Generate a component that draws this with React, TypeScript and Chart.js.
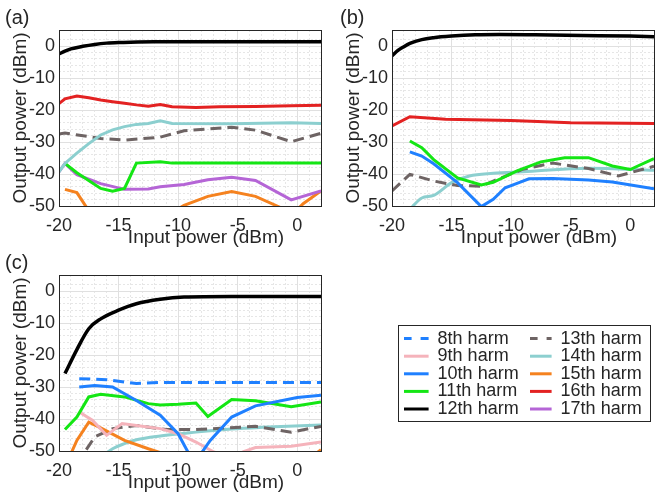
import React, { useEffect, useRef } from 'react';
import { Chart, registerables } from 'chart.js';

Chart.register(...registerables);

type P = [number, number][];

const FONT = '"Liberation Sans", Arial, Helvetica, sans-serif';
const TXT = '#262626';

// harmonic colours
const C8 = '#1f80ff';
const C9 = '#f5b3bb';
const C10 = '#1f80ff';
const C11 = '#14e614';
const C12 = '#000000';
const C13 = '#6e6464';
const C14 = '#8ccfcf';
const C15 = '#f5821f';
const C16 = '#e32222';
const C17 = '#b565d6';

// axis ranges / ticks
const X_MIN = -20;
const X_MAX = 2;
const Y_MIN = -50;
const Y_MAX = 5;
const X_TITLE = 'Input power (dBm)';
const Y_TITLE = 'Output power (dBm)';

// ---------- panel (a) ----------
const A_H12: P = [[-20, -2.5], [-19.5, -1.6], [-19, -0.9], [-18, -0.1], [-17, 0.5], [-16, 0.9], [-15, 1.1], [-14, 1.2], [-12, 1.3], [-8, 1.3], [-4, 1.3], [0, 1.3], [2, 1.3]];
const A_H16: P = [[-20, -18], [-19.5, -16.5], [-18.5, -15.6], [-17.5, -16.2], [-16.5, -16.9], [-15.5, -17.4], [-14.5, -17.9], [-13.5, -18.4], [-12.5, -18.8], [-11.5, -18.3], [-10.5, -19], [-8.5, -19.2], [-6.5, -19], [-3.5, -18.9], [-0.5, -18.7], [2, -18.5]];
const A_H14: P = [[-20, -39.3], [-19.5, -36.7], [-18.5, -33.5], [-17.5, -30.5], [-16.5, -27.8], [-15.5, -26.2], [-14.5, -25.2], [-13.5, -24.5], [-12.5, -24.2], [-11.5, -23.4], [-10.5, -24.2], [-5.5, -24.3], [-0.5, -24], [2, -24.2]];
const A_H13: P = [[-20, -27.5], [-19.5, -27.2], [-16.5, -28.9], [-14.5, -29.4], [-11.5, -28.5], [-9.5, -26.5], [-5.5, -25.4], [-3.5, -26.3], [-0.5, -29.9], [2, -27.3]];
const A_H11: P = [[-19.5, -36.7], [-18.5, -39.6], [-16.5, -44.5], [-15.5, -45.4], [-14.5, -44.5], [-13.5, -36.6], [-11.5, -36.2], [-10.5, -36.6], [2, -36.6]];
const A_H17: P = [[-20, -39.3], [-19.5, -36.7], [-18.5, -40.2], [-16.5, -43], [-14.5, -44.8], [-12.5, -44.7], [-11.5, -44], [-9.5, -43.3], [-7.5, -41.8], [-5.5, -41], [-3.5, -42], [-0.5, -48.1], [2, -45.3]];
const A_H15: P = [[-19.5, -44.8], [-18.5, -45.8], [-17.5, -51.5], [-16.5, -55], [-13.5, -58], [-10.5, -52], [-9.5, -49.8], [-7.5, -47], [-5.5, -45.5], [-3.5, -47], [-1.5, -50.3], [-0.5, -53], [0.5, -49.3], [2, -45.3]];

// ---------- panel (b) ----------
const B_H12: P = [[-20, -3.1], [-19.5, -1.4], [-19, -0.2], [-18.5, 0.8], [-17.5, 2], [-16.5, 2.6], [-15, 3.1], [-13, 3.5], [-11, 3.6], [-8, 3.5], [-4, 3.3], [0, 3.1], [2, 2.9]];
const B_H16: P = [[-20, -25], [-18.5, -22.1], [-15.5, -22.9], [-10, -23.3], [-5, -24], [2, -24.2]];
const B_H11: P = [[-18.5, -29.7], [-17.5, -31.8], [-16.5, -35.5], [-14.5, -41.2], [-12.5, -43.4], [-11.5, -42.6], [-9.5, -39], [-7.5, -36.2], [-5.5, -34.9], [-3.5, -34.9], [-1.5, -37.5], [0, -38.6], [2, -35.2]];
const B_H10: P = [[-18.5, -33.1], [-17.5, -34.4], [-16.5, -36.8], [-14.5, -42.7], [-12.5, -50.2], [-11.5, -47.9], [-10.5, -44.3], [-9.5, -42.9], [-8.5, -41.5], [-6.5, -41.4], [-3.5, -41.9], [-1.5, -42.5], [2, -44.6]];
const B_H13: P = [[-20, -45.3], [-18.5, -40.1], [-16.5, -42.2], [-14.5, -43.6], [-12.5, -43.8], [-11.5, -42.2], [-9, -38.5], [-6.5, -36.6], [-3.5, -38.3], [-1, -40.6], [2, -37.6]];
const B_H14: P = [[-18.3, -50.2], [-17.5, -47.5], [-16.5, -46.7], [-15, -42.7], [-13.5, -40.6], [-11.5, -39.8], [-9, -39.3], [-3.5, -38.2], [2, -38.8]];

// ---------- panel (c) ----------
const C_H12: P = [[-19.5, -25.8], [-18.5, -18.3], [-17.5, -11.8], [-16.5, -8.7], [-15, -6], [-13.5, -4], [-11.5, -2.6], [-9.5, -1.9], [-5.5, -1.7], [2, -1.7]];
const C_H8: P = [[-18.3, -27.4], [-16, -27.7], [-13.5, -28.9], [-11.5, -28.6], [2, -28.6]];
const C_H10: P = [[-18.3, -30], [-17, -29.5], [-15.5, -30], [-13.5, -34.2], [-11.5, -38.8], [-10, -44.6], [-9, -51.5], [-8.3, -52], [-7.3, -46.7], [-5.5, -39.4], [-3.5, -35.9], [0, -33.3], [2, -32.6]];
const C_H11: P = [[-19.5, -43.3], [-18.5, -39.4], [-17.5, -33.1], [-16.5, -32.3], [-14.5, -33.1], [-12.5, -35.2], [-11.5, -35.6], [-10, -35.4], [-8.5, -35], [-7.5, -39.2], [-5.5, -33.9], [-3.5, -34.3], [-0.5, -36.2], [2, -34.7]];
const C_H9: P = [[-18.3, -37.8], [-17.2, -40.4], [-16, -45.1], [-14.7, -41.4], [-13.5, -42], [-11.5, -43], [-10, -44.6], [-8.5, -47.2], [-7, -50.3], [-5.5, -52], [-4.5, -50.2], [-3.5, -48.9], [-0.5, -48.5], [2, -47.2]];
const C_H15: P = [[-19.5, -55], [-18.5, -46.7], [-17.5, -41], [-16.5, -42.8], [-14.5, -46.7], [-12.5, -49.3], [-11.5, -50.5], [-10, -53], [-5, -56], [0, -53], [1.5, -51], [2, -49.6]];
const C_H13: P = [[-18.5, -54], [-17, -45.6], [-15.5, -43], [-13.5, -42], [-11, -43.3], [-8.5, -43.3], [-3.5, -42.3], [-0.5, -44.1], [2, -42.3]];
const C_H14: P = [[-16.5, -52], [-15.5, -49.3], [-14.5, -47.7], [-13.5, -46.5], [-11.5, -45.3], [-8.5, -44.1], [-5.5, -43.1], [-3, -42.6], [2, -41.9]];

// ---------- legend ----------
const LEGEND_COL1 = ['8th harm', '9th harm', '10th harm', '11th harm', '12th harm'];
const LEGEND_COL1_COLORS = [C8, C9, C10, C11, C12];
const LEGEND_COL1_DASH = [true, false, false, false, false];
const LEGEND_COL2 = ['13th harm', '14th harm', '15th harm', '16th harm', '17th harm'];
const LEGEND_COL2_COLORS = [C13, C14, C15, C16, C17];
const LEGEND_COL2_DASH = [true, false, false, false, false];

type Series = { name: string; pts: P; color: string; dash?: boolean; smooth?: boolean; width?: number };

const PANEL_A: Series[] = [
  { name: '12th harm', pts: A_H12, color: C12, smooth: true, width: 3.5 },
  { name: '16th harm', pts: A_H16, color: C16 },
  { name: '14th harm', pts: A_H14, color: C14 },
  { name: '13th harm', pts: A_H13, color: C13, dash: true },
  { name: '11th harm', pts: A_H11, color: C11 },
  { name: '17th harm', pts: A_H17, color: C17 },
  { name: '15th harm', pts: A_H15, color: C15 },
];
const PANEL_B: Series[] = [
  { name: '12th harm', pts: B_H12, color: C12, smooth: true, width: 3.5 },
  { name: '16th harm', pts: B_H16, color: C16 },
  { name: '11th harm', pts: B_H11, color: C11 },
  { name: '10th harm', pts: B_H10, color: C10 },
  { name: '13th harm', pts: B_H13, color: C13, dash: true },
  { name: '14th harm', pts: B_H14, color: C14, smooth: true },
];
const PANEL_C: Series[] = [
  { name: '12th harm', pts: C_H12, color: C12, smooth: true, width: 3.5 },
  { name: '8th harm', pts: C_H8, color: C8, dash: true },
  { name: '10th harm', pts: C_H10, color: C10 },
  { name: '11th harm', pts: C_H11, color: C11 },
  { name: '9th harm', pts: C_H9, color: C9 },
  { name: '15th harm', pts: C_H15, color: C15 },
  { name: '13th harm', pts: C_H13, color: C13, dash: true },
  { name: '14th harm', pts: C_H14, color: C14, smooth: true },
];

const MAJOR = '#e0e0e0';
const MINOR = '#e6e6e6';

function Panel({ label, series, left, top, labelX }: { label: string; series: Series[]; left: number; top: number; labelX: number }) {
  const ref = useRef<HTMLCanvasElement>(null);
  useEffect(() => {
    const deco = {
      id: 'deco',
      afterDatasetsDraw(c: any) {
        const { ctx, chartArea: a } = c;
        ctx.save();
        ctx.strokeStyle = TXT;
        ctx.lineWidth = 1;
        const l = Math.floor(a.left) + 0.5;
        const t = Math.floor(a.top) + 0.5;
        const r = Math.floor(a.right) + 0.5;
        const b = Math.floor(a.bottom) + 0.5;
        ctx.strokeRect(l, t, r - l, b - t);
        ctx.restore();
      },
      afterDraw(c: any) {
        const { ctx } = c;
        ctx.save();
        ctx.fillStyle = TXT;
        ctx.textBaseline = 'middle';
        ctx.textAlign = 'left';
        ctx.font = `20px ${FONT}`;
        ctx.fillText(label, labelX, 18);
        ctx.textAlign = 'center';
        ctx.font = `19px ${FONT}`;
        ctx.fillText(X_TITLE, 206, 238);
        ctx.restore();
      },
    };
    const gridColor = (mod: number) => (ctx: any) =>
      ctx.tick && Math.abs(ctx.tick.value % mod) < 1e-9 ? MAJOR : MINOR;
    const gridDash = (mod: number) => (ctx: any) =>
      ctx.tick && Math.abs(ctx.tick.value % mod) < 1e-9 ? [] : [2, 2];
    const chart = new Chart(ref.current!, {
      type: 'line',
      data: {
        datasets: series.map((s) => ({
          label: s.name,
          data: s.pts.map(([x, y]) => ({ x, y })),
          borderColor: s.color,
          backgroundColor: s.color,
          borderWidth: s.width ?? 3,
          borderDash: s.dash ? [11, 6] : [],
          pointRadius: 0,
          fill: false,
          tension: 0,
          cubicInterpolationMode: s.smooth ? 'monotone' : 'default',
        })),
      } as any,
      options: {
        responsive: false,
        animation: false,
        events: [],
        layout: { padding: { top: 30, right: 4, left: 0, bottom: 0 } },
        plugins: { legend: { display: false }, tooltip: { enabled: false }, title: { display: false } },
        scales: {
          x: {
            type: 'linear',
            min: X_MIN,
            max: X_MAX,
            afterFit: (s: any) => { s.height = 44; },
            ticks: {
              stepSize: 1,
              autoSkip: false,
              maxRotation: 0,
              padding: 9,
              color: TXT,
              font: { family: FONT, size: 18 },
              callback: (v: any) => (Math.abs(Number(v) % 5) < 1e-9 ? String(v) : ''),
            },
            grid: { color: gridColor(5), lineWidth: 1, drawTicks: false },
            border: { display: false, dash: gridDash(5) },
          },
          y: {
            type: 'linear',
            min: Y_MIN,
            max: Y_MAX,
            afterFit: (s: any) => { s.width = 59; },
            ticks: {
              stepSize: 2,
              autoSkip: false,
              padding: 4,
              color: TXT,
              font: { family: FONT, size: 18 },
              callback: (v: any) => (Math.abs(Number(v) % 10) < 1e-9 ? String(v) : ''),
            },
            title: {
              display: true,
              text: Y_TITLE,
              color: TXT,
              font: { family: FONT, size: 19 },
              padding: { top: 9, bottom: 0 },
            },
            grid: { color: gridColor(10), lineWidth: 1, drawTicks: false },
            border: { display: false, dash: gridDash(10) },
          },
        },
      } as any,
      plugins: [deco],
    });
    return () => chart.destroy();
  }, []);
  return <canvas ref={ref} width={330} height={250} style={{ position: 'absolute', left, top }} />;
}

function LegendCol({ names, colors, dashes, left, top, boxW }: { names: string[]; colors: string[]; dashes: boolean[]; left: number; top: number; boxW: number }) {
  const ref = useRef<HTMLCanvasElement>(null);
  useEffect(() => {
    const chart = new Chart(ref.current!, {
      type: 'line',
      data: {
        datasets: names.map((n, i) => ({ label: n, data: [], borderColor: colors[i], borderWidth: 3, borderDash: dashes[i] ? [8, 9] : [] })),
      } as any,
      options: {
        responsive: false,
        animation: false,
        events: [],
        layout: { padding: 0 },
        scales: { x: { display: false }, y: { display: false } },
        plugins: {
          tooltip: { enabled: false },
          legend: {
            display: true,
            position: 'top',
            align: 'start',
            labels: {
              usePointStyle: true,
              pointStyleWidth: boxW,
              padding: -0.4,
              color: TXT,
              font: { family: FONT, size: 18 },
              generateLabels: () =>
                names.map((n, i) => ({
                  text: n,
                  fillStyle: colors[i],
                  strokeStyle: colors[i],
                  fontColor: TXT,
                  lineWidth: 3,
                  lineDash: dashes[i] ? [8, 9] : [],
                  lineCap: 'butt',
                  pointStyle: 'line',
                  hidden: false,
                  datasetIndex: i,
                })),
            },
          },
        },
      } as any,
    });
    return () => chart.destroy();
  }, []);
  return <canvas ref={ref} width={125} height={240} style={{ position: 'absolute', left, top }} />;
}

export default function App() {
  return (
    <div style={{ position: 'absolute', left: 0, top: 0, width: 655, height: 493, overflow: 'hidden', background: '#fff' }}>
      <Panel label="(a)" series={PANEL_A} left={0} top={0} labelX={5} />
      <Panel label="(b)" series={PANEL_B} left={333} top={0} labelX={7} />
      <Panel label="(c)" series={PANEL_C} left={0} top={245} labelX={5} />
      <div style={{ position: 'absolute', left: 398, top: 325, width: 253, height: 97, border: `1px solid ${TXT}`, boxSizing: 'border-box' }} />
      <LegendCol names={LEGEND_COL1} colors={LEGEND_COL1_COLORS} dashes={LEGEND_COL1_DASH} left={404} top={330.4} boxW={25} />
      <LegendCol names={LEGEND_COL2} colors={LEGEND_COL2_COLORS} dashes={LEGEND_COL2_DASH} left={530} top={330.4} boxW={22} />
    </div>
  );
}
